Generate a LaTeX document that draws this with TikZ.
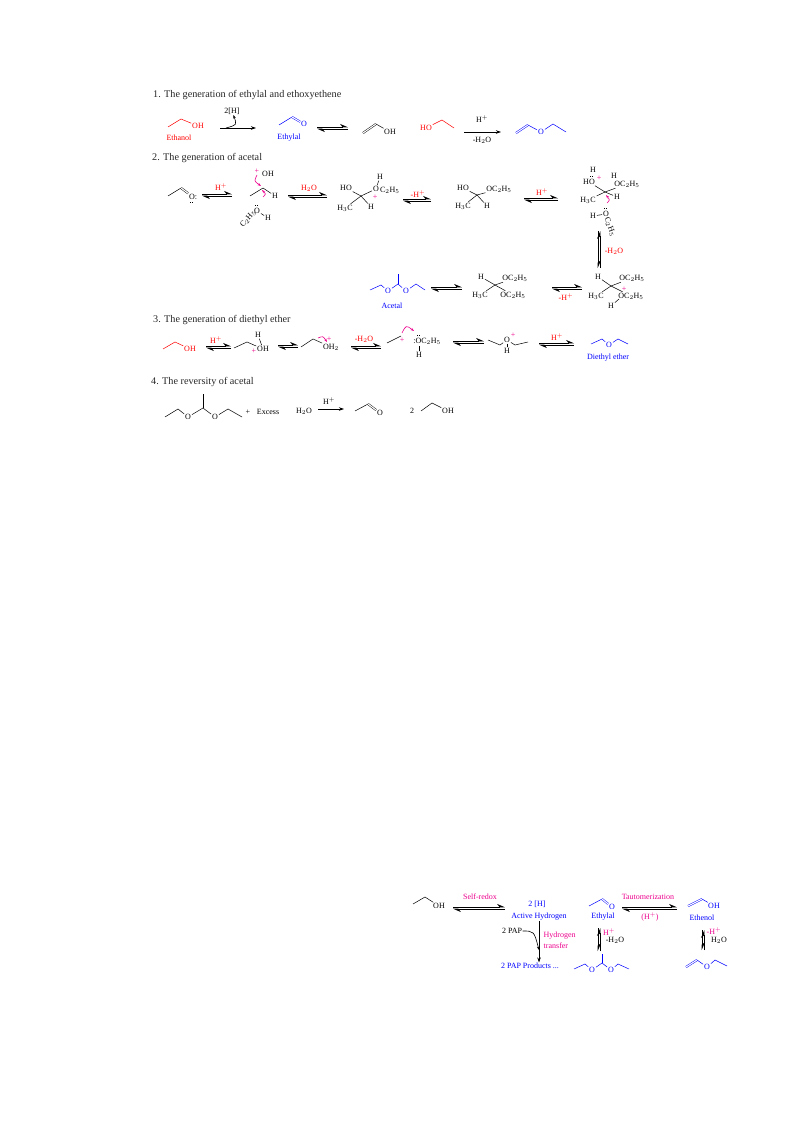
\documentclass[tikz,border=0pt]{standalone}
\usepackage{fontspec}
\setmainfont{Liberation Serif}
\usetikzlibrary{arrows.meta}
\tikzset{
  atom/.style={inner sep=0.8pt,font=\fontsize{8}{9}\selectfont},
  title/.style={inner sep=0pt,anchor=west,text=black!85,font=\fontsize{10.2}{12}\selectfont},
  tag/.style={inner sep=0.5pt,font=\fontsize{8}{9}\selectfont},
  bond/.style={line width=0.5pt},
  dbl/.style={line width=0.45pt,double,double distance=1.1pt},
  lone/.style={line width=0.7pt,dash pattern=on 0.7pt off 1.3pt},
  rxn/.style={line width=0.7pt,-{Stealth[length=5pt,width=3.5pt]}},
  eqarr/.style={line width=0.7pt,-{Stealth[harpoon,length=7pt,width=6pt]}},
  curl/.style={line width=0.6pt,-{Stealth[length=3.5pt,width=2.5pt]}},
  push/.style={curl,magenta},
  chg/.style={inner sep=0pt,text=magenta,font=\fontsize{8}{9}\selectfont}
}
\begin{document}
\begin{tikzpicture}[x=1pt,y=-1pt]
\useasboundingbox (0,0) rectangle (793,1123);
% section titles
\node [title] (t1) at (153,95) {1. The generation of ethylal and ethoxyethene};
\node [title] (t2) at (152,158) {2. The generation of acetal};
\node [title] (t3) at (153,320) {3. The generation of diethyl ether};
\node [title] (t4) at (151,382) {4. The reversity of acetal};
% row 1
\coordinate (ea1) at (168,127);
\coordinate (ea2) at (181,119);
\node [atom,red] (ea3) at (198,126) {OH};
\draw [bond,red] (ea1) -- (ea2) -- (ea3);
\node [tag,red] (ea4) at (179,138) {Ethanol};
\coordinate (r1a) at (220,128);
\coordinate (r1b) at (256,128);
\draw [rxn] (r1a) -- (r1b);
\node [tag] (r1h) at (232,111) {2[H]};
\coordinate (r1c) at (226,128);
\draw [curl] (r1c) .. controls (237,125) .. (r1h);
\coordinate (al1) at (279,125);
\coordinate (al2) at (292,117);
\node [atom,blue] (al3) at (304,124) {O};
\draw [bond,blue] (al1) -- (al2);
\draw [dbl,blue] (al2) -- (al3);
\node [tag,blue] (al4) at (289,138) {Ethylal};
\coordinate (e1a) at (317,128);
\coordinate (e1b) at (348,128);
\coordinate (vy1) at (363,133);
\coordinate (vy2) at (376,124);
\node [atom] (vy3) at (390,132) {OH};
\draw [dbl] (vy1) -- (vy2);
\draw [bond] (vy2) -- (vy3);
\node [atom,red] (eb1) at (426,128) {HO};
\coordinate (eb2) at (442,120);
\coordinate (eb3) at (454,128);
\draw [bond,red] (eb1) -- (eb2) -- (eb3);
\coordinate (r2a) at (464,132);
\coordinate (r2b) at (501,132);
\draw [rxn] (r2a) -- (r2b);
\node [tag] (r2h) at (482,119) {H$^+$};
\node [tag] (r2w) at (482,140) {-H$_2$O};
\coordinate (ee1) at (516,133);
\coordinate (ee2) at (528,125);
\node [atom,blue] (ee3) at (541,132) {O};
\coordinate (ee4) at (553,124);
\coordinate (ee5) at (566,132);
\draw [dbl,blue] (ee1) -- (ee2);
\draw [bond,blue] (ee2) -- (ee3) -- (ee4) -- (ee5);
% row 2, upper line
\coordinate (ac1) at (168,196);
\coordinate (ac2) at (181,188);
\node [atom] (ac3) at (193,197) {O:};
\coordinate (ac4) at (190,202);
\draw [lone] (ac4) -- ++(3,0);
\draw [bond] (ac1) -- (ac2);
\draw [dbl] (ac2) -- (ac3);
\coordinate (e2a) at (202,195);
\coordinate (e2b) at (232,195);
\node [tag,red] (e2t) at (221,187) {H$^+$};
\node [atom] (pa1) at (268,174) {OH};
\node [chg] (pa2) at (257,171) {+};
\coordinate (pa3) at (263,188);
\coordinate (pa4) at (250,196);
\node [atom] (pa5) at (275,196) {H};
\draw [dbl] (pa3) -- (263,179);
\draw [bond] (pa3) -- (pa4);
\draw [bond] (pa3) -- (pa5);
\coordinate (pa6) at (257,175);
\coordinate (pa7) at (261,186);
\draw [push] (pa6) .. controls (254,181) .. (pa7);
\coordinate (pa8) at (263,197);
\coordinate (pa9) at (262,190);
\draw [push] (pa8) .. controls (266,194) .. (pa9);
\node [atom,rotate=50] (pb1) at (248,219) {C$_2$H$_5$};
\node [atom] (pb2) at (257,211) {O};
\coordinate (pb3) at (255,205);
\draw [lone] (pb3) -- ++(3,0);
\node [atom] (pb4) at (268,218) {H};
\draw [bond] (pb2) -- (pb4);
\coordinate (e3a) at (288,196);
\coordinate (e3b) at (327,196);
\node [tag,red] (e3t) at (309,188) {H$_2$O};
\coordinate (oa1) at (361,196);
\node [atom] (oa2) at (346,188) {HO};
\node [atom] (oa3) at (345,208) {H$_3$C};
\node [atom] (oa4) at (371,207) {H};
\node [atom,anchor=west] (oa5) at (372,189) {O};
\node [atom,anchor=west] (oa6) at (379,190) {C$_2$H$_5$};
\node [atom] (oa7) at (380,177) {H};
\node [chg] (oa8) at (375,197) {+};
\draw [bond] (oa1) -- (oa2);
\draw [bond] (oa1) -- (oa3);
\draw [bond] (oa1) -- (oa4);
\draw [bond] (oa1) -- (oa5);
\draw [bond] (oa5) -- (oa7);
\coordinate (e4a) at (403,200);
\coordinate (e4b) at (431,200);
\node [tag,red] (e4t) at (418,194) {-H$^+$};
\coordinate (ob1) at (477,195);
\node [atom] (ob2) at (463,188) {HO};
\node [atom] (ob3) at (463,206) {H$_3$C};
\node [atom] (ob4) at (487,206) {H};
\node [atom] (ob5) at (499,189) {OC$_2$H$_5$};
\draw [bond] (ob1) -- (ob2);
\draw [bond] (ob1) -- (ob3);
\draw [bond] (ob1) -- (ob4);
\draw [bond] (ob1) -- (ob5);
\coordinate (e5a) at (524,199);
\coordinate (e5b) at (558,199);
\node [tag,red] (e5t) at (542,192) {H$^+$};
\coordinate (oc1) at (605,192);
\node [atom] (oc2) at (589,182) {HO};
\node [atom] (oc3) at (593,170) {H};
\coordinate (oc4) at (590,176);
\draw [lone] (oc4) -- ++(3,0);
\node [chg] (oc5) at (599,178) {+};
\node [atom] (oc6) at (588,200) {H$_3$C};
\node [atom] (oc7) at (617,197) {H};
\node [atom] (oc8) at (614,176) {H};
\node [atom] (oc9) at (627,184) {OC$_2$H$_5$};
\draw [bond] (oc1) -- (oc2);
\draw [bond] (oc1) -- (oc6);
\draw [bond] (oc1) -- (oc7);
\draw [bond] (oc1) -- (oc9);
\coordinate (oc10) at (607,203);
\coordinate (oc11) at (606,195);
\draw [push] (oc10) .. controls (610,200) .. (oc11);
\node [atom] (od1) at (606,214) {O};
\coordinate (od2) at (604,208);
\draw [lone] (od2) -- ++(3,0);
\node [atom] (od3) at (593,216) {H};
\node [atom,rotate=-70] (od4) at (610,227) {C$_2$H$_5$};
\draw [bond] (od3) -- (od1);
% vertical step
\coordinate (e6a) at (599,231);
\coordinate (e6b) at (599,268);
\draw [eqarr] ([xshift=-1pt]e6a) -- ([xshift=-1pt]e6b);
\draw [eqarr] ([xshift=1pt]e6b) -- ([xshift=1pt]e6a);
\node [tag,red] (e6t) at (614,251) {-H$_2$O};
% row 2, lower line
\coordinate (oe1) at (611,286);
\node [atom] (oe2) at (598,277) {H};
\node [atom] (oe3) at (632,278) {OC$_2$H$_5$};
\node [atom] (oe4) at (596,296) {H$_3$C};
\node [atom] (oe5) at (631,296) {OC$_2$H$_5$};
\node [chg] (oe6) at (624,289) {+};
\node [atom] (oe7) at (611,306) {H};
\draw [bond] (oe1) -- (oe2);
\draw [bond] (oe1) -- (oe3);
\draw [bond] (oe1) -- (oe4);
\draw [bond] (oe1) -- (oe5);
\coordinate (oe8) at (619,299);
\draw [bond] (oe8) -- (oe7);
\coordinate (e7a) at (552,288);
\coordinate (e7b) at (582,288);
\node [tag,red] (e7t) at (566,297) {-H$^+$};
\coordinate (of1) at (495,285);
\node [atom] (of2) at (481,277) {H};
\node [atom] (of3) at (515,278) {OC$_2$H$_5$};
\node [atom] (of4) at (480,295) {H$_3$C};
\node [atom] (of5) at (513,295) {OC$_2$H$_5$};
\draw [bond] (of1) -- (of2);
\draw [bond] (of1) -- (of3);
\draw [bond] (of1) -- (of4);
\draw [bond] (of1) -- (of5);
\coordinate (e8a) at (431,288);
\coordinate (e8b) at (462,288);
\coordinate (at1) at (370,290);
\coordinate (at2) at (381,285);
\node [atom,blue] (at3) at (388,291) {O};
\coordinate (at4) at (398,284);
\coordinate (at5) at (398,274);
\node [atom,blue] (at6) at (406,291) {O};
\coordinate (at7) at (416,284);
\coordinate (at8) at (425,290);
\draw [bond,blue] (at1) -- (at2) -- (at3) -- (at4) -- (at6) -- (at7) -- (at8);
\draw [bond,blue] (at4) -- (at5);
\node [tag,blue] (at9) at (392,306) {Acetal};
% row 3
\coordinate (db1) at (163,349);
\coordinate (db2) at (175,342);
\node [atom,red] (db3) at (190,349) {OH};
\draw [bond,red] (db1) -- (db2) -- (db3);
\coordinate (e9a) at (206,347);
\coordinate (e9b) at (231,347);
\node [tag,red] (e9t) at (216,340) {H$^+$};
\coordinate (dc1) at (234,348);
\coordinate (dc2) at (247,342);
\node [atom] (dc3) at (263,349) {OH};
\node [chg] (dc4) at (254,351) {+};
\node [atom] (dc5) at (258,335) {H};
\draw [bond] (dc1) -- (dc2) -- (dc3);
\draw [bond] (dc5) -- (dc3);
\coordinate (e10a) at (278,346);
\coordinate (e10b) at (298,346);
\coordinate (dd1) at (301,347);
\coordinate (dd2) at (313,339);
\node [atom] (dd3) at (331,347) {OH$_2$};
\node [chg] (dd4) at (329,339) {+};
\draw [bond] (dd1) -- (dd2) -- (dd3);
\coordinate (dd5) at (318,338);
\coordinate (dd6) at (327,342);
\draw [push] (dd5) .. controls (323,336) .. (dd6);
\coordinate (e11a) at (351,347);
\coordinate (e11b) at (381,347);
\node [tag,red] (e11t) at (364,339) {-H$_2$O};
\coordinate (de1) at (387,343);
\coordinate (de2) at (401,336);
\node [chg] (de3) at (402,340) {+};
\draw [bond] (de1) -- (de2);
\coordinate (de4) at (402,333);
\coordinate (de5) at (414,331);
\draw [push] (de4) .. controls (406,325) .. (de5);
\node [atom] (de6) at (427,341) {:OC$_2$H$_5$};
\coordinate (de7) at (417,335);
\draw [lone] (de7) -- ++(3,0);
\node [atom] (de8) at (419,355) {H};
\coordinate (de9) at (419,346);
\draw [bond] (de9) -- (de8);
\coordinate (e12a) at (453,342);
\coordinate (e12b) at (484,342);
\coordinate (df1) at (488,340);
\coordinate (df2) at (500,345);
\node [atom] (df3) at (507,340) {O};
\coordinate (df4) at (515,345);
\coordinate (df5) at (528,342);
\node [chg] (df6) at (513,335) {+};
\node [atom] (df7) at (507,351) {H};
\draw [bond] (df1) -- (df2) -- (df3) -- (df4) -- (df5);
\draw [bond] (df3) -- (df7);
\coordinate (e13a) at (539,344);
\coordinate (e13b) at (574,344);
\node [tag,red] (e13t) at (557,337) {H$^+$};
\coordinate (dg1) at (591,344);
\coordinate (dg2) at (602,339);
\node [atom,blue] (dg3) at (609,345) {O};
\coordinate (dg4) at (618,339);
\coordinate (dg5) at (628,344);
\draw [bond,blue] (dg1) -- (dg2) -- (dg3) -- (dg4) -- (dg5);
\node [tag,blue] (dg6) at (608,358) {Diethyl ether};
% row 4
\coordinate (ra1) at (165,417);
\coordinate (ra2) at (178,409);
\node [atom] (ra3) at (188,417) {O};
\coordinate (ra4) at (203,408);
\coordinate (ra5) at (203,394);
\node [atom] (ra6) at (215,417) {O};
\coordinate (ra7) at (228,409);
\coordinate (ra8) at (242,417);
\draw [bond] (ra1) -- (ra2) -- (ra3) -- (ra4) -- (ra6) -- (ra7) -- (ra8);
\draw [bond] (ra4) -- (ra5);
\node [tag] (ra9) at (248,412) {+};
\node [tag] (ra10) at (268,412) {Excess};
\node [tag] (ra11) at (304,411) {H$_2$O};
\coordinate (r3a) at (318,409);
\coordinate (r3b) at (344,409);
\draw [rxn] (r3a) -- (r3b);
\node [tag] (r3h) at (329,401) {H$^+$};
\coordinate (rb1) at (355,411);
\coordinate (rb2) at (368,404);
\node [atom] (rb3) at (380,413) {O};
\draw [bond] (rb1) -- (rb2);
\draw [dbl] (rb2) -- (rb3);
\node [tag] (rc0) at (412,411) {2};
\coordinate (rc1) at (421,411);
\coordinate (rc2) at (432,403);
\node [atom] (rc3) at (448,411) {OH};
\draw [bond] (rc1) -- (rc2) -- (rc3);
% summary scheme
\coordinate (sa1) at (413,904);
\coordinate (sa2) at (425,897);
\node [atom] (sa3) at (439,906) {OH};
\draw [bond] (sa1) -- (sa2) -- (sa3);
\coordinate (e14a) at (453,908);
\coordinate (e14b) at (505,908);
\node [tag,magenta] (e14t) at (480,897) {Self-redox};
\node [tag,blue] (sb1) at (537,904) {2 [H]};
\node [tag,blue] (sb2) at (539,917) {Active Hydrogen};
\node [tag,blue] (sb3) at (530,966) {2 PAP Products ...};
\node [tag] (sb4) at (512,931) {2 PAP};
\node [tag,magenta,anchor=west] (sb5) at (543,936) {Hydrogen};
\node [tag,magenta,anchor=west] (sb6) at (543,946) {transfer};
\draw [rxn] (sb2) -- (sb2 |- sb3.north);
\coordinate (sb7) at (539,950);
\draw [curl] (sb4) .. controls (534,931) .. (sb7);
\coordinate (sc1) at (589,906);
\coordinate (sc2) at (602,899);
\node [atom,blue] (sc3) at (612,907) {O};
\draw [bond,blue] (sc1) -- (sc2);
\draw [dbl,blue] (sc2) -- (sc3);
\node [tag,blue] (sc4) at (603,917) {Ethylal};
\coordinate (e15a) at (622,908);
\coordinate (e15b) at (677,908);
\node [tag,magenta] (e15t) at (648,897) {Tautomerization};
\node [tag,magenta] (e15u) at (650,917) {(H$^+$)};
\coordinate (sd1) at (688,906);
\coordinate (sd2) at (702,899);
\node [atom,blue] (sd3) at (714,906) {OH};
\draw [dbl,blue] (sd1) -- (sd2);
\draw [bond,blue] (sd2) -- (sd3);
\node [tag,blue] (sd4) at (702,918) {Ethenol};
\coordinate (e16a) at (599,928);
\coordinate (e16b) at (599,951);
\draw [eqarr] ([xshift=-1pt]e16a) -- ([xshift=-1pt]e16b);
\draw [eqarr] ([xshift=1pt]e16b) -- ([xshift=1pt]e16a);
\node [tag,magenta] (e16t) at (609,932) {H$^+$};
\node [tag] (e16u) at (615,940) {-H$_2$O};
\coordinate (e17a) at (703,930);
\coordinate (e17b) at (703,950);
\draw [eqarr] ([xshift=-1pt]e17a) -- ([xshift=-1pt]e17b);
\draw [eqarr] ([xshift=1pt]e17b) -- ([xshift=1pt]e17a);
\node [tag,magenta] (e17t) at (714,931) {-H$^+$};
\node [tag] (e17u) at (719,940) {H$_2$O};
\coordinate (se1) at (574,969);
\coordinate (se2) at (585,964);
\node [atom,blue] (se3) at (592,970) {O};
\coordinate (se4) at (602,963);
\coordinate (se5) at (602,954);
\node [atom,blue] (se6) at (611,970) {O};
\coordinate (se7) at (618,964);
\coordinate (se8) at (629,969);
\draw [bond,blue] (se1) -- (se2) -- (se3) -- (se4) -- (se6) -- (se7) -- (se8);
\draw [bond,blue] (se4) -- (se5);
\coordinate (sf1) at (686,967);
\coordinate (sf2) at (697,960);
\node [atom,blue] (sf3) at (707,967) {O};
\coordinate (sf4) at (715,960);
\coordinate (sf5) at (727,966);
\draw [dbl,blue] (sf1) -- (sf2);
\draw [bond,blue] (sf2) -- (sf3) -- (sf4) -- (sf5);
% equilibrium arrows
\foreach \a/\b in {e1a/e1b,e2a/e2b,e3a/e3b,e4a/e4b,e5a/e5b,e7a/e7b,e8a/e8b,e9a/e9b,
  e10a/e10b,e11a/e11b,e12a/e12b,e13a/e13b,e14a/e14b,e15a/e15b}
{
  \draw [eqarr] ([yshift=1pt]\a) -- ([yshift=1pt]\b);
  \draw [eqarr] ([yshift=-1pt]\b) -- ([yshift=-1pt]\a);
}
\end{tikzpicture}
\end{document}
